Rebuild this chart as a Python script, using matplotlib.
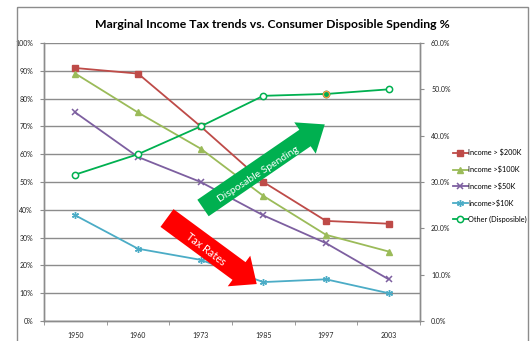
import matplotlib
matplotlib.use('Agg')
import matplotlib.pyplot as plt
from matplotlib.patches import FancyArrow, Rectangle
from matplotlib.ticker import FuncFormatter
from matplotlib.transforms import Affine2D

# data
years = ['1950', '1960', '1973', '1985', '1997', '2003']
income_200k = [91, 89, 70, 50, 36, 35]
income_100k = [89, 75, 62, 45, 31, 25]
income_50k = [75, 59, 50, 38, 28, 15]
income_10k = [38, 26, 22, 14, 15, 10]
other_disposible = [31.6, 36.0, 42.0, 48.6, 49.0, 50.0]   # right axis, %

W, H = 532, 341
plt.rcParams['font.family'] = ['Lato', 'DejaVu Sans']

fig = plt.figure(figsize=(W / 100, H / 100), dpi=100)
# pixel coordinates, origin top-left
px = Affine2D().scale(1, -1).translate(0, H)

L, R, T, B = 44, 420, 43, 321
ax = fig.add_axes([L / W, 1 - B / H, (R - L) / W, (B - T) / H])
ax2 = ax.twinx()

grid_c = '#8c8c8c'
x = range(len(years))

ax.plot(x, income_200k, color='#BE4B48', lw=1.3, marker='s', ms=4.5, label='Income > $200K')
ax.plot(x, income_100k, color='#9BBB59', lw=1.3, marker='^', ms=4.5, label='Income >$100K')
ax.plot(x, income_50k, color='#7D5FA0', lw=1.3, marker='x', ms=4.5, mew=1.1, label='Income >$50K')
ax.plot(x, income_10k, color='#4BACC6', lw=1.3, marker=(6, 2, 0), ms=5, mew=1.0, label='Income>$10K')
ax2.plot(x, other_disposible, color='#00B050', lw=1.3, marker='o', ms=4.5, mfc='white', mew=1.1,
         label='Other (Disposible)')
# the 1997 marker has an orange rim in the original
ax2.plot([4], [other_disposible[4]], ls='none', marker='o', ms=4.5, mfc='#00B050', mec='#F79646', mew=1.0)

ax.set_xlim(-0.5, len(years) - 0.5)
ax.set_ylim(0, 100)
ax2.set_ylim(0, 60)
ax.set_xticks(list(x))
ax.set_xticklabels(years)
ax.set_xticks([i - 0.5 for i in range(len(years) + 1)], minor=True)
ax.tick_params(axis='x', which='major', length=0, labelsize=5, pad=8, colors='#222222')
ax.tick_params(axis='x', which='minor', length=3, color=grid_c, direction='out')
ax.set_yticks(range(0, 101, 10))
ax.yaxis.set_major_formatter(FuncFormatter(lambda v, p: f'{v:.0f}%'))
ax.tick_params(axis='y', length=3, color=grid_c, labelsize=5, pad=5, labelcolor='#222222')
ax2.set_yticks(range(0, 61, 10))
ax2.yaxis.set_major_formatter(FuncFormatter(lambda v, p: f'{v:.1f}%'))
ax2.tick_params(axis='y', length=3, color=grid_c, labelsize=5, pad=5, labelcolor='#222222')

ax.yaxis.grid(True, color=grid_c, lw=1.0)
ax.set_axisbelow(True)
for a in (ax, ax2):
    for s in a.spines.values():
        s.set_color(grid_c)
        s.set_linewidth(1.0)
    a.spines['top'].set_visible(False)

# legend
h1, l1 = ax.get_legend_handles_labels()
h2, l2 = ax2.get_legend_handles_labels()
fig.legend(h1 + h2, l1 + l2, loc='upper left', bbox_to_anchor=(450 / W, 1 - 146 / H),
           frameon=False, fontsize=5.3, handlelength=2.0, handletextpad=0.1,
           labelspacing=1.25, borderaxespad=0)

# title
fig.text(272, 25, 'Marginal Income Tax trends vs. Consumer Disposible Spending %',
         transform=px, ha='center', va='center', fontsize=8.8, fontweight='bold')

# outer chart frame
fig.add_artist(Rectangle((17, 7), 511, 340, transform=px, fill=False, ec='#8c8c8c', lw=1.0))

# annotation arrows
fig.add_artist(FancyArrow(203, 208, 102, -70, width=20, head_width=38, head_length=24,
                          length_includes_head=False, transform=px, color='#00B050', lw=0))
fig.text(258, 174, 'Disposable Spending', transform=px, rotation=33, ha='center', va='center',
         color='white', fontsize=7.5, rotation_mode='anchor')
fig.add_artist(FancyArrow(167, 218, 72, 53, width=22, head_width=38, head_length=22,
                          length_includes_head=False, transform=px, color='#FF0000', lw=0))
fig.text(206, 249, 'Tax Rates', transform=px, rotation=-37, ha='center', va='center',
         color='white', fontsize=7.8, rotation_mode='anchor')

fig.savefig('out.png', dpi=100)
